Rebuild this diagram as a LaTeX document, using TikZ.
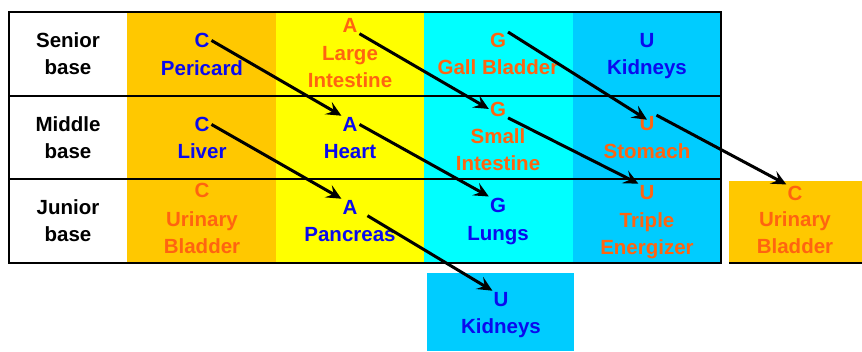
\documentclass[tikz,border=0pt]{standalone}
\usepackage{fontspec}
\setmainfont{Liberation Sans}
\usetikzlibrary{arrows.meta}
\definecolor{cOrange}{HTML}{FFC800}
\definecolor{cYellow}{HTML}{FFFF00}
\definecolor{cCyan}{HTML}{00FFFF}
\definecolor{cBlue}{HTML}{00CCFF}
\definecolor{tBlue}{HTML}{0A0AEE}
\definecolor{tOrange}{HTML}{FF6410}
\tikzset{
  txt/.style={font=\bfseries\fontsize{20.5}{26.5}\selectfont, align=center, anchor=base, inner sep=1pt},
  bl/.style={txt, text=tBlue},
  og/.style={txt, text=tOrange},
  lbl/.style={txt, text=black},
  arr/.style={line width=3pt, -{Stealth[length=15pt,width=14pt,inset=6pt]}, shorten <=1pt},
  grid/.style={line width=2.4pt}
}
\begin{document}
\begin{tikzpicture}[x=1pt,y=-1pt]
\useasboundingbox (0,0) rectangle (862,351);
% column fills
\fill[white] (9,12) rectangle (127,263);
\fill[cOrange] (127,12) rectangle (276,263);
\fill[cYellow] (276,12) rectangle (424,263);
\fill[cCyan] (424,12) rectangle (573,263);
\fill[cBlue] (573,12) rectangle (721,263);
\fill[cOrange] (729,181) rectangle (862,262);
\fill[cBlue] (427,273) rectangle (574,351);
% grid
\draw[line width=2pt] (9,12) rectangle (721,263);
\draw[grid] (9,96) -- (721,96);
\draw[grid] (9,179) -- (721,179);
\draw[line width=2pt] (729,263) -- (862,263);
% row labels (base = last line)
\node[lbl] (senior) at (68,74) {Senior\\base};
\node[lbl] (middle) at (68,158) {Middle\\base};
\node[lbl] (junior) at (68,241) {Junior\\base};
% orange column
\node[bl] (pC) at (202,47) {C};
\node[bl] (pName) at (202,75) {Pericard};
\node[bl] (lvC) at (202,131) {C};
\node[bl] (lvName) at (202,158) {Liver};
\node[og] (uC) at (202,197) {C};
\node[og] (uName) at (202,253) {Urinary\\Bladder};
% yellow column
\node[og] (lA) at (350,32) {A};
\node[og] (lName) at (350,87) {Large\\Intestine};
\node[bl] (hA) at (350,131) {A};
\node[bl] (hName) at (350,158) {Heart};
\node[bl] (pA) at (350,214) {A};
\node[bl] (paName) at (350,241) {Pancreas};
% cyan column
\node[og] (gG) at (498,47) {G};
\node[og] (gName) at (498,74) {Gall Bladder};
\node[og] (sG) at (498,116) {G};
\node[og] (sName) at (498,170) {Small\\Intestine};
\node[bl] (lgG) at (498,212) {G};
\node[bl] (lgName) at (498,240) {Lungs};
% blue column
\node[bl] (kU) at (647,47) {U};
\node[bl] (kName) at (647,74) {Kidneys};
\node[og] (mU) at (647,130) {U};
\node[og] (mName) at (647,158) {Stomach};
\node[og] (tU) at (647,199) {U};
\node[og] (tName) at (647,254) {Triple\\Energizer};
% extra boxes
\node[og] (rC) at (795,200) {C};
\node[og] (rName) at (795,253) {Urinary\\Bladder};
\node[bl] (bU) at (501,306) {U};
\node[bl] (bName) at (501,333) {Kidneys};
% arrows
\draw[arr] (pC.east) -- (hA.north west);
\draw[arr] (lA.south east) -- (sG.west);
\draw[arr] (gG.north east) -- ([yshift=-5pt]mU.north);
\draw[arr] (lvC.east) -- (pA.north west);
\draw[arr] (hA.east) -- (lgG.north west);
\draw[arr] (sG.south east) -- (tU.north west);
\draw[arr] (mU.north east) -- (rC.north west);
\draw[arr] ([xshift=8pt]pA.south east) -- (bU.north west);
\end{tikzpicture}
\end{document}
